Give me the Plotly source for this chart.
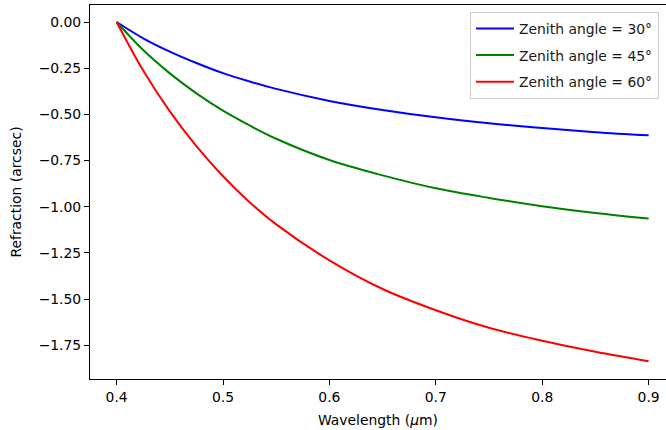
import plotly.graph_objects as go

# Wavelength grid (micrometres)
wavelength = [0.40, 0.425, 0.45, 0.475, 0.50, 0.525, 0.55, 0.60, 0.65, 0.70, 0.75, 0.80, 0.85, 0.90]

# Differential refraction relative to 0.4 um (arcsec)
refr_30 = [0.0, -0.088, -0.160, -0.222, -0.277, -0.322, -0.362, -0.427, -0.476, -0.516, -0.548, -0.574, -0.596, -0.613]
refr_45 = [0.0, -0.152, -0.278, -0.386, -0.480, -0.560, -0.632, -0.747, -0.830, -0.900, -0.952, -0.997, -1.034, -1.064]
refr_60 = [0.0, -0.263, -0.484, -0.672, -0.835, -0.975, -1.095, -1.290, -1.445, -1.560, -1.655, -1.725, -1.785, -1.836]

series = [
    ("Zenith angle = 30°", refr_30, "#0000ff"),
    ("Zenith angle = 45°", refr_45, "#008000"),
    ("Zenith angle = 60°", refr_60, "#ff0000"),
]

x_ticks = [0.4, 0.5, 0.6, 0.7, 0.8, 0.9]
y_ticks = [0.0, -0.25, -0.5, -0.75, -1.0, -1.25, -1.5, -1.75]

FONT = "DejaVu Sans"
FS = 13.9

fig = go.Figure()
for i, (name, vals, color) in enumerate(series):
    fig.add_trace(go.Scatter(
        x=wavelength, y=vals, name=name, mode="lines",
        line=dict(color=color, width=2, shape="spline", smoothing=1.0),
        legendgroup=f"g{i}",
    ))

fig.update_layout(
    width=666, height=430,
    margin=dict(l=90, r=0, t=5, b=51),
    paper_bgcolor="white", plot_bgcolor="white",
    font=dict(family=FONT, size=FS, color="black"),
    showlegend=True,
    legend=dict(
        x=0.6597, y=0.9813, xanchor="left", yanchor="top",
        bgcolor="rgba(255,255,255,0.8)", bordercolor="#cccccc", borderwidth=1,
        font=dict(family=FONT, size=FS, color="#1a1a1a"),
        tracegroupgap=5.5, itemwidth=38,
    ),
    xaxis=dict(
        range=[0.375, 0.375 + 576 / 1064],
        tickvals=x_ticks, ticktext=[f"{v:.1f}" for v in x_ticks],
        showgrid=False, zeroline=False,
        showline=True, linecolor="black", linewidth=1, mirror=True,
        ticks="outside", ticklen=5, tickwidth=1, tickcolor="black",
        title=dict(text="Wavelength (<i>μ</i>m)", standoff=11,
                   font=dict(family=FONT, size=FS)),
    ),
    yaxis=dict(
        range=[-1.932, 0.092],
        tickvals=y_ticks, ticktext=[f"{v:.2f}".replace("-", "\u2212") for v in y_ticks],
        showgrid=False, zeroline=False,
        showline=True, linecolor="black", linewidth=1, mirror=False,
        ticks="outside", ticklen=5, tickwidth=1, tickcolor="black",
        title=dict(text="Refraction (arcsec)", standoff=13,
                   font=dict(family=FONT, size=FS)),
    ),
)

fig.write_html("out.html")
